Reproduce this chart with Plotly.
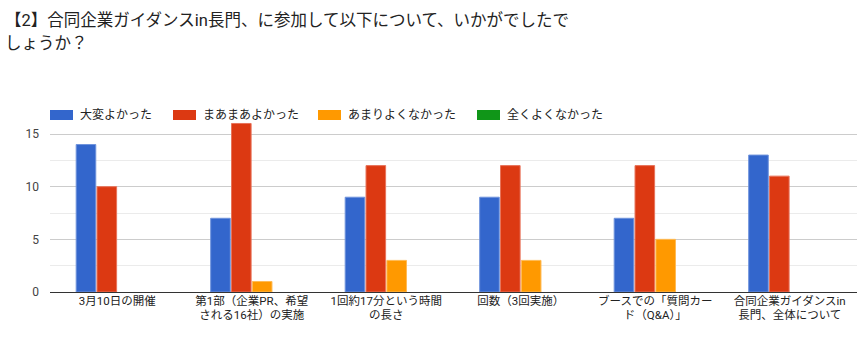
import plotly.graph_objects as go

categories = [
    "3月10日の開催",
    "第1部（企業PR、希望<br>される16社）の実施",
    "1回約17分という時間<br>の長さ",
    "回数（3回実施）",
    "ブースでの「質問カー<br>ド（Q&A）」",
    "合同企業ガイダンスin<br>長門、全体について",
]
series_names = ["大変よかった", "まあまあよかった", "あまりよくなかった", "全くよくなかった"]
very_good = [14, 7, 9, 9, 7, 13]
fairly_good = [10, 16, 12, 12, 12, 11]
not_good = [0, 1, 3, 3, 5, 0]
not_at_all = [0, 0, 0, 0, 0, 0]
title_lines = ["【2】合同企業ガイダンスin長門、に参加して以下について、いかがでしたで", "しょうか？"]

colors = ["#3366cc", "#dc3912", "#ff9900", "#109618"]
edge = ["#6f93dc", "#e8735a", "#ffbb55", "#5cbf63"]
FONT = "Roboto, 'Noto Sans CJK JP', Arial, sans-serif"

fig = go.Figure()
for name, vals, c, e in zip(series_names, [very_good, fairly_good, not_good, not_at_all], colors, edge):
    fig.add_trace(go.Bar(
        name=name, x=categories, y=vals,
        marker=dict(color=c, line=dict(color=e, width=[1 if v > 0 else 0 for v in vals])),
        hoverinfo="skip", showlegend=False,
    ))

W, H = 864, 339
L, R, T, B = 50, 7, 120, 47
ph = H - T - B

def px_x(px):
    return (px - L) / (W - L - R)

def px_y(py):
    return (H - B - py) / ph

for line, py in zip(title_lines, [20, 43]):
    fig.add_annotation(text=line, xref="paper", yref="paper", x=px_x(3), y=px_y(py),
                       xanchor="left", yanchor="middle", showarrow=False,
                       font=dict(family=FONT, size=16.5, color="#222222"))

# custom legend (layout positions)
legend_x = [50, 173, 318, 477]
legend_cy = 115
for name, c, lx in zip(series_names, colors, legend_x):
    fig.add_shape(type="rect", xref="paper", yref="paper",
                  x0=px_x(lx), x1=px_x(lx + 23), y0=px_y(legend_cy + 5), y1=px_y(legend_cy - 5),
                  fillcolor=c, line=dict(width=0))
    fig.add_annotation(text=name, xref="paper", yref="paper", x=px_x(lx + 28), y=px_y(legend_cy),
                       xanchor="left", yanchor="middle", showarrow=False,
                       font=dict(family=FONT, size=12, color="#222222"))

fig.update_layout(
    width=W, height=H,
    margin=dict(l=L, r=R, t=T, b=B, pad=0),
    paper_bgcolor="white", plot_bgcolor="white",
    barmode="group", bargap=0.38, bargroupgap=0.06,
    font=dict(family=FONT, size=12, color="#444444"),
    showlegend=False,
    xaxis=dict(showgrid=False, showline=False, ticks="", tickfont=dict(size=11.5, color="#222222"),
               fixedrange=True),
    yaxis=dict(range=[0, 16.33], tickvals=[0, 5, 10, 15], showgrid=True, gridcolor="#cccccc",
               gridwidth=1, zeroline=True, zerolinecolor="#333333", zerolinewidth=1,
               minor=dict(tickvals=[2.5, 7.5, 12.5], showgrid=True, gridcolor="#ebebeb", ticks=""),
               tickfont=dict(size=12, color="#444444"), ticklabelstandoff=10, fixedrange=True),
)

fig.write_html("out.html")
